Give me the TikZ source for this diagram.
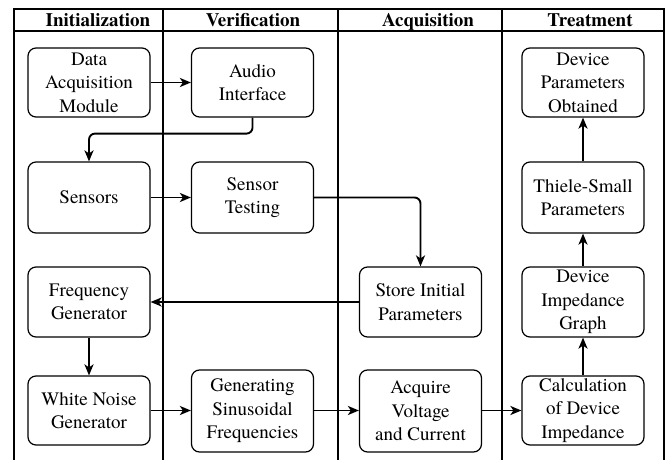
\documentclass[tikz,border=0pt]{standalone}
\usepackage{fontspec}
\setmainfont{TeX Gyre Termes}
\usetikzlibrary{arrows.meta}
\begin{document}
\begin{tikzpicture}[x=1pt,y=-1pt,
  box/.style={draw, line width=1.2pt, rounded corners=8pt, minimum width=122pt, minimum height=69pt, inner sep=0pt, align=center, font=\fontsize{19}{23.5}\selectfont},
  hdr/.style={font=\fontsize{19}{23}\selectfont\bfseries, anchor=base},
  lane/.style={line width=1.2pt},
  arr/.style={line width=1.9pt, -{Stealth[length=11pt,width=9pt,inset=3pt]}}]
\useasboundingbox (0,0) rectangle (669,460);
% frame
\draw[lane] (14,460) -- (14,9) -- (664,9) -- (664,460);
\draw[lane] (14,31) -- (664,31);
\draw[lane] (163,9) -- (163,460);
\draw[lane] (338,9) -- (338,460);
\draw[lane] (502,9) -- (502,460);
% headers
\node[hdr] (h1) at (98,27) {Initialization};
\node[hdr] (h2) at (253,27) {Verification};
\node[hdr] (h3) at (428,27) {Acquisition};
\node[hdr] (h4) at (590,27) {Treatment};
% boxes
\node[box] (dam) at (89,82.5) {Data\\Acquisition\\Module};
\node[box] (sen) at (89,197.5) [minimum height=71pt] {Sensors};
\node[box] (fg) at (89,302) [minimum height=70pt] {Frequency\\Generator};
\node[box] (wn) at (89,410.5) {White Noise\\Generator};
\node[box] (aud) at (252.5,82.5) {Audio\\Interface};
\node[box] (st) at (252.5,197.5) [minimum height=71pt] {Sensor\\Testing};
\node[box] (gs) at (252.5,411) [minimum height=82pt] {Generating\\Sinusoidal\\Frequencies};
\node[box] (sip) at (420.5,302) [minimum height=70pt] {Store Initial\\Parameters};
\node[box] (acq) at (420.5,411) [minimum height=82pt] {Acquire\\Voltage\\and Current};
\node[box] (dpo) at (583,82.5) {Device\\Parameters\\Obtained};
\node[box] (ts) at (583,197.5) [minimum height=71pt] {Thiele-Small\\Parameters};
\node[box] (dig) at (583,302) [minimum height=70pt] {Device\\Impedance\\Graph};
\node[box] (cdi) at (583,410.5) {Calculation\\of Device\\Impedance};
% connectors
\draw[arr] (dam.east) -- (aud.west);
\draw[arr, rounded corners=6pt] (aud.south) -- ++(0,16) -| (sen.north);
\draw[arr] (sen.east) -- (st.west);
\draw[arr, rounded corners=6pt] (st.east) -| (sip.north);
\draw[arr] (sip.west) -- (fg.east);
\draw[arr] (fg.south) -- (wn.north);
\draw[arr] (wn.east) -- (gs.west |- wn.east);
\draw[arr] (gs.east |- wn.east) -- (acq.west |- wn.east);
\draw[arr] (acq.east |- wn.east) -- (cdi.west);
\draw[arr] (cdi.north) -- (dig.south);
\draw[arr] (dig.north) -- (ts.south);
\draw[arr] (ts.north) -- (dpo.south);
\end{tikzpicture}
\end{document}
